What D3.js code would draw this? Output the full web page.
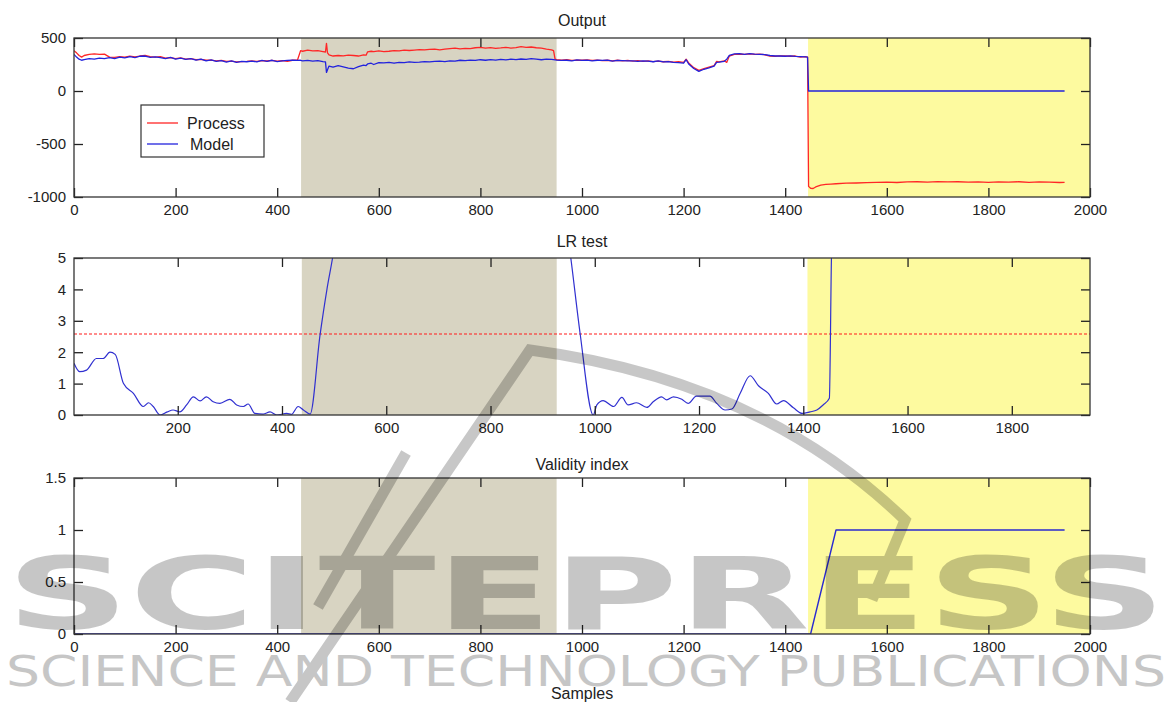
<!DOCTYPE html>
<html>
<head>
<meta charset="utf-8">
<script src="https://cdn.jsdelivr.net/npm/d3@7"></script>
<style>
    body { margin: 0; background: #fff; }
    svg text { font-family: "Liberation Sans", Arial, sans-serif; fill: #222; }
</style>
</head>
<body>
<svg id="chart" width="1171" height="702"></svg>
<script>
// ---- Output panel: process vs model ----
var outSamples = [0,5,10,15,20,30,40,50,60,70,80,90,100,110,120,130,140,150,160,170,180,190,200,210,220,230,240,250,260,270,280,290,300,310,320,330,340,350,360,370,380,390,400,410,420,430,440,
    446,450,460,470,480,490,495,497,499,502,510,520,530,540,550,560,570,575,578,585,590,600,610,620,630,640,650,660,670,680,690,700,710,720,730,740,750,760,770,780,790,800,810,820,830,840,850,860,870,880,890,900,910,920,930,940,944,
    947,950,960,970,980,990,1000,1010,1020,1030,1040,1050,1060,1070,1080,1090,1100,1110,1120,1130,1140,1150,1160,1170,1180,1190,1200,1205,1210,1220,1230,1240,1250,1260,1265,1270,1280,1285,1290,1300,1310,1320,1330,1340,1350,1360,1370,1380,1390,1400,1410,1420,1430,1440,1444,
    1446,1450,1455,1460,1470,1480,1490,1500,1520,1540,1560,1580,1600,1620,1640,1660,1680,1700,1720,1740,1760,1780,1800,1820,1840,1860,1880,1900,1920,1940,1950];
var processVals = [380,360,335,320,335,345,350,345,348,320,318,325,320,330,322,330,335,325,320,325,310,315,305,312,300,305,295,298,290,292,285,288,280,282,275,278,280,284,279,286,283,288,282,286,280,290,292,
    380,375,385,378,380,372,368,450,360,340,330,335,332,338,335,330,340,338,370,375,372,378,372,375,380,378,385,382,386,390,388,392,395,388,395,400,405,398,402,400,408,412,405,410,402,406,412,405,410,418,412,415,408,405,395,388,380,
    300,295,290,295,288,292,290,294,288,292,286,290,285,290,284,288,282,286,280,284,278,282,276,280,272,276,270,300,265,220,195,210,225,240,280,275,285,270,330,345,348,345,350,345,348,342,330,328,332,330,328,330,320,325,320,
    -900,-918,-920,-905,-888,-880,-878,-875,-870,-868,-865,-862,-860,-863,-858,-856,-860,-855,-858,-856,-860,-857,-862,-858,-860,-856,-862,-858,-860,-863,-862];
var modelVals = [345,320,300,290,295,305,300,310,305,315,305,320,312,325,315,328,330,318,322,315,305,318,300,310,298,306,292,300,285,294,280,286,272,284,270,280,276,282,275,288,280,290,278,284,288,292,288,
    290,285,288,282,286,278,275,175,200,235,225,240,228,215,210,230,245,240,255,262,250,268,265,270,262,270,268,275,270,272,278,275,280,282,278,285,282,290,286,292,288,295,290,296,292,298,294,300,296,302,298,305,300,295,300,298,296,
    294,292,288,290,285,294,288,292,284,290,288,292,282,288,286,284,285,280,284,282,276,284,274,278,270,268,262,295,255,212,185,205,218,235,270,272,280,300,335,350,352,345,352,348,346,344,335,330,330,328,332,326,325,322,320,
    0,0,0,0,0,0,0,0,0,0,0,0,0,0,0,0,0,0,0,0,0,0,0,0,0,0,0,0,0,0,0];
var outXTicks = [0,200,400,600,800,1000,1200,1400,1600,1800,2000];
var outYTicks = [-1000,-500,0,500];

// ---- LR test panel ----
var lrSamples = [1,12,25,44,57,70,80,96,115,134,144,153,166,180,191,204,217,230,243,255,268,281,300,313,326,335,348,364,377,390,409,418,431,441,454,473,486,497,520,700,930,954,972,
    997,1004,1016,1036,1052,1064,1080,1100,1112,1128,1138,1151,1167,1179,1195,1221,1234,1250,1263,1279,1298,1314,1333,1349,1362,1381,1398,1413,1426,1438,1450,1454,1470,1700,1950];
var lrVals = [1.65,1.38,1.43,1.8,1.8,2.0,1.93,1.0,0.69,0.27,0.39,0.27,0,0.1,0.16,0.1,0.32,0.58,0.45,0.58,0.42,0.37,0.5,0.32,0.27,0.35,0.05,0.03,0.1,0,0.05,0.02,0.27,0.16,0.03,2.55,3.98,5,7.6,30,7.8,5,2.58,
    0,0.32,0.46,0.27,0.56,0.32,0.39,0.24,0.42,0.58,0.48,0.58,0.5,0.37,0.6,0.6,0.37,0.16,0.19,0.69,1.25,0.93,0.69,0.35,0.46,0.23,0.05,0.1,0.16,0.32,0.53,5,12,40,45];
var lrThreshold = 2.58;
var lrXTicks = [200,400,600,800,1000,1200,1400,1600,1800];
var lrYTicks = [0,1,2,3,4,5];

// ---- Validity index panel ----
var validSamples = [1,1450,1500,1950];
var validVals = [0,0,1,1];
var validYTicks = [0,0.5,1,1.5];

// shaded intervals (samples)
var greyBand = [447,950];
var yellowBand = [1445,2000];
var lrGreyBand = [438,927];
var lrYellowBand = [1408,1950];

var svg = d3.select("#chart");
var left = 74, right = 1090;

function drawPanel(p) {
    var x = d3.scaleLinear().domain(p.xDomain).range([left, right]);
    var y = d3.scaleLinear().domain(p.yDomain).range([p.bottom, p.top]);
    var g = svg.append("g");

    svg.append("clipPath").attr("id", "clip-" + p.name)
        .append("rect")
        .attr("x", left).attr("y", p.top)
        .attr("width", right - left).attr("height", p.bottom - p.top);

    p.bands.forEach(function(b) {
        g.append("rect")
            .attr("x", x(b.range[0]))
            .attr("y", p.top)
            .attr("width", x(b.range[1]) - x(b.range[0]))
            .attr("height", p.bottom - p.top)
            .attr("fill", b.color);
    });

    var lines = g.append("g").attr("clip-path", "url(#clip-" + p.name + ")");
    if (p.threshold !== undefined) {
        lines.append("line")
            .attr("x1", left).attr("x2", right)
            .attr("y1", y(p.threshold)).attr("y2", y(p.threshold))
            .attr("stroke", "#ff1a1a").attr("stroke-width", 1.2)
            .attr("stroke-dasharray", "3,2");
    }
    p.series.forEach(function(s) {
        var line = d3.line()
            .curve(s.curve || d3.curveLinear)
            .x(function(d, i) { return x(s.xs[i]); })
            .y(function(d) { return y(d); });
        lines.append("path")
            .attr("d", line(s.ys))
            .attr("fill", "none")
            .attr("stroke", s.color)
            .attr("stroke-width", s.width || 1.3)
            .attr("stroke-linejoin", "round");
    });

    var fmt = function(d) { return String(d); };
    var tk = 9;
    var ax = function(a) {
        a.select(".domain").remove();
        a.selectAll(".tick line").attr("stroke", "#222").attr("stroke-width", 1.3);
        a.selectAll("text").style("font-size", "15px").attr("fill", "#222");
    };
    g.append("g").attr("transform", "translate(0," + p.bottom + ")")
        .call(d3.axisBottom(x).tickValues(p.xTicks).tickSize(-tk).tickPadding(7).tickFormat(fmt)).call(ax);
    g.append("g").attr("transform", "translate(0," + p.top + ")")
        .call(d3.axisTop(x).tickValues(p.xTicks).tickSize(-tk).tickFormat("")).call(ax);
    g.append("g").attr("transform", "translate(" + left + ",0)")
        .call(d3.axisLeft(y).tickValues(p.yTicks).tickSize(-tk).tickPadding(8).tickFormat(fmt)).call(ax);
    g.append("g").attr("transform", "translate(" + right + ",0)")
        .call(d3.axisRight(y).tickValues(p.yTicks).tickSize(-tk).tickFormat("")).call(ax);

    g.append("rect")
        .attr("x", left).attr("y", p.top)
        .attr("width", right - left).attr("height", p.bottom - p.top)
        .attr("fill", "none").attr("stroke", "#333").attr("stroke-width", 1.3);

    svg.append("text")
        .attr("x", (left + right) / 2).attr("y", p.titleY)
        .attr("text-anchor", "middle").style("font-size", "16px")
        .text(p.title);
}

var grey = "#d8d4c2", yellow = "#fdfa9f";
var red = "#ff2626", blue = "#2222dd";

drawPanel({
    name: "out", title: "Output", titleY: 26, top: 38, bottom: 197,
    xDomain: [0, 2000], yDomain: [-1000, 500], xTicks: outXTicks, yTicks: outYTicks,
    bands: [{range: greyBand, color: grey}, {range: yellowBand, color: yellow}],
    series: [{xs: outSamples, ys: processVals, color: red}, {xs: outSamples, ys: modelVals, color: blue}]
});
drawPanel({
    name: "lr", title: "LR test", titleY: 247, top: 258, bottom: 415,
    xDomain: [1, 1950], yDomain: [0, 5], xTicks: lrXTicks, yTicks: lrYTicks,
    bands: [{range: lrGreyBand, color: grey}, {range: lrYellowBand, color: yellow}],
    threshold: lrThreshold,
    series: [{xs: lrSamples, ys: lrVals, color: "#3030d0", width: 1.2, curve: d3.curveMonotoneX}]
});
drawPanel({
    name: "valid", title: "Validity index", titleY: 470, top: 478, bottom: 634,
    xDomain: [0, 2000], yDomain: [0, 1.5], xTicks: outXTicks, yTicks: validYTicks,
    bands: [{range: greyBand, color: grey}, {range: yellowBand, color: yellow}],
    series: [{xs: validSamples, ys: validVals, color: "#2a2ad0", width: 1.4}]
});

svg.append("text")
    .attr("x", 582).attr("y", 699)
    .attr("text-anchor", "middle").style("font-size", "16px")
    .text("Samples");

// legend for the output panel
var leg = svg.append("g");
leg.append("rect").attr("x", 141).attr("y", 105).attr("width", 123).attr("height", 52)
    .attr("fill", "#fff").attr("stroke", "#333").attr("stroke-width", 1.2);
[{label: "Process", color: red, y: 123, tx: 187}, {label: "Model", color: blue, y: 144, tx: 190}].forEach(function(d) {
    leg.append("line").attr("x1", 147).attr("x2", 178).attr("y1", d.y).attr("y2", d.y)
        .attr("stroke", d.color).attr("stroke-width", 1.3);
    leg.append("text").attr("x", d.tx).attr("y", d.y + 6).style("font-size", "16px").text(d.label);
});

// publisher watermark drawn over the figure
var wm = svg.append("g").attr("opacity", 0.22);
wm.append("text")
    .attr("x", 6).attr("y", 629)
    .attr("textLength", 1160).attr("lengthAdjust", "spacingAndGlyphs")
    .style("font-family", "DejaVu Sans").style("font-weight", "bold").style("font-size", "100px")
    .style("fill", "#000")
    .text("SCITEPRESS");
wm.append("text")
    .attr("x", 6).attr("y", 686)
    .attr("textLength", 1160).attr("lengthAdjust", "spacingAndGlyphs")
    .style("font-family", "DejaVu Sans").style("font-size", "42px")
    .style("fill", "#000")
    .text("SCIENCE AND TECHNOLOGY PUBLICATIONS");
wm.append("path")
    .attr("d", "M290,702 L530,350 Q760,380 905,520 L872,600 M318,607 L406,453")
    .attr("fill", "none").attr("stroke", "#000").attr("stroke-width", 11);
</script>
</body>
</html>
